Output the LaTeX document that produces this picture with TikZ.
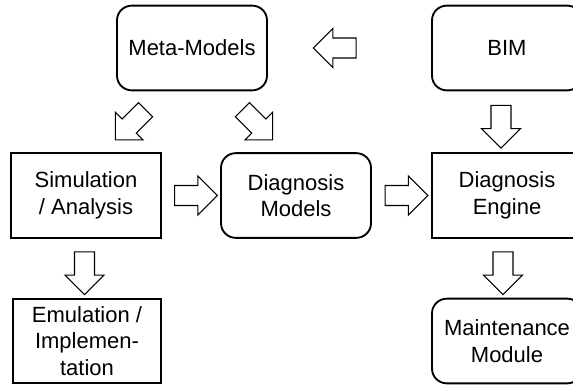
\documentclass[tikz,border=0pt]{standalone}
\usepackage{fontspec}
\setmainfont{Liberation Sans}
\usetikzlibrary{shapes.arrows,calc}

\begin{document}
\begin{tikzpicture}[x=0.75pt, y=-0.75pt,
    box/.style={draw, line width=1.4pt, minimum width=112.5pt, minimum height=63.5pt,
        align=center, inner sep=2pt, font=\fontsize{16.5}{20}\selectfont},
    rbox/.style={box, rounded corners=11pt},
    barrow/.style={draw, line width=0.8pt, single arrow, single arrow head extend=7.1pt,
        minimum width=28.5pt, minimum height=32pt, inner sep=7.1pt}]
    % 画面范围
    \useasboundingbox (0,0) rectangle (573,385);

    % 上排
    \node[rbox] (meta) at (192,48) {Meta-Models};
    \node[rbox] (bim) at (507,48) {BIM};

    % 中排
    \node[box] (sim) at (86,195.5) {Simulation\\/ Analysis};
    \node[rbox] (dm) at (296,195.5) {Diagnosis\\Models};
    \node[box] (de) at (507,195.5) {Diagnosis\\Engine};

    % 下排
    \node[box, minimum width=111pt] (emu) at (87,341) {Emulation /\\Implemen-\\tation};
    \node[rbox] (maint) at (507,341) {Maintenance\\Module};

    % 空心箭头
    \node[barrow, rotate=180] (a1) at ($(meta.east)!0.44!(bim.west)$) {};
    \node[barrow, rotate=225] (a2) at ($(meta.south west)+(18,30)$) {};
    \node[barrow, rotate=-45] (a3) at ($(meta.south east)+(-14,30)$) {};
    \node[barrow, rotate=-90] (a4) at ($(bim.south)!0.5!(de.north)+(-6,0)$) {};
    \node[barrow] (a5) at ($(sim.east)!0.5!(dm.west)$) {};
    \node[barrow] (a6) at ($(dm.east)!0.5!(de.west)$) {};
    \node[barrow, rotate=-90] (a7) at ($(sim.south)!0.5!(emu.north)+(-2,0)$) {};
    \node[barrow, rotate=-90] (a8) at ($(de.south)!0.5!(maint.north)+(-4,0)$) {};
\end{tikzpicture}
\end{document}
